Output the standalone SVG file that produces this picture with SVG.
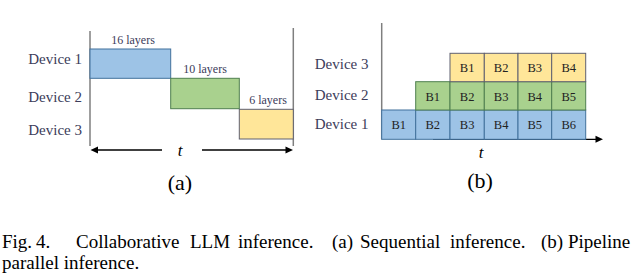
<svg xmlns="http://www.w3.org/2000/svg" width="640" height="277" viewBox="0 0 640 277" font-family="Liberation Serif">
<rect width="640" height="277" fill="#fff"/>
<g id="panel-a-axes">
<line stroke="#7f7f7f" stroke-width="1.5" x1="90" y1="31" x2="90" y2="146"/>
<line stroke="#7f7f7f" stroke-width="1.5" x1="293.3" y1="28" x2="293.3" y2="146"/>
</g>
<g id="a-dev1"><rect fill="#9dc3e6" stroke="#41719c" x="90" y="49" width="80.7" height="29.3"/><text font-family="Liberation Serif" font-size="12" fill="#3c3c5a" text-anchor="middle" x="133" y="43.5">16 layers</text></g>
<g id="a-dev2"><rect fill="#a9d18e" stroke="#4f7f4f" x="170.7" y="78.3" width="68.6" height="30.4"/><text font-family="Liberation Serif" font-size="12" fill="#3c3c5a" text-anchor="middle" x="205" y="73">10 layers</text></g>
<g id="a-dev3"><rect fill="#ffe699" stroke="#5f6070" x="239.3" y="109.3" width="54" height="29.7"/><text font-family="Liberation Serif" font-size="12" fill="#3c3c5a" text-anchor="middle" x="268" y="103.5">6 layers</text></g>
<g id="a-labels">
<text font-family="Liberation Serif" font-size="15" fill="#3c3c5a" text-anchor="end" x="82" y="64.3">Device 1</text>
<text font-family="Liberation Serif" font-size="15" fill="#3c3c5a" text-anchor="end" x="82" y="101.7">Device 2</text>
<text font-family="Liberation Serif" font-size="15" fill="#3c3c5a" text-anchor="end" x="82" y="135">Device 3</text>
</g>
<g id="connectors">
<line stroke="#000" stroke-width="1.3" x1="97" y1="150" x2="162" y2="150"/>
<polygon fill="#000" points="90.5,150 98,146.5 98,153.5"/>
<line stroke="#000" stroke-width="1.3" x1="202" y1="150" x2="286" y2="150"/>
<polygon fill="#000" points="293,150 285.5,146.5 285.5,153.5"/>
<line stroke="#7f7f7f" stroke-width="1.5" x1="381.7" y1="23" x2="381.7" y2="139.3"/>
<line stroke="#000" stroke-width="1.3" x1="433" y1="139.3" x2="596" y2="139.3"/>
<polygon fill="#000" points="603,139.3 595.5,135.8 595.5,142.8"/>
</g>
<text font-family="Liberation Serif" font-size="17" font-style="italic" text-anchor="middle" x="180" y="155.5">t</text>
<text font-family="Liberation Serif" font-size="22" text-anchor="middle" x="180" y="190">(a)</text>
<g id="b-labels">
<text font-family="Liberation Serif" font-size="15" fill="#3c3c5a" text-anchor="end" x="368.5" y="68.5">Device 3</text>
<text font-family="Liberation Serif" font-size="15" fill="#3c3c5a" text-anchor="end" x="368.5" y="100">Device 2</text>
<text font-family="Liberation Serif" font-size="15" fill="#3c3c5a" text-anchor="end" x="368.5" y="128.5">Device 1</text>
</g>
<g id="b-dev1">
<rect fill="#9dc3e6" stroke="#41719c" x="381.7" y="110" width="34" height="29.3"/><text font-family="Liberation Serif" font-size="12.5" fill="#222" text-anchor="middle" x="398.7" y="129">B1</text>
<rect fill="#9dc3e6" stroke="#41719c" x="415.7" y="110" width="34.3" height="29.3"/><text font-family="Liberation Serif" font-size="12.5" fill="#222" text-anchor="middle" x="432.8" y="129">B2</text>
<rect fill="#9dc3e6" stroke="#41719c" x="450" y="110" width="34.3" height="29.3"/><text font-family="Liberation Serif" font-size="12.5" fill="#222" text-anchor="middle" x="467.1" y="129">B3</text>
<rect fill="#9dc3e6" stroke="#41719c" x="484.3" y="110" width="33.7" height="29.3"/><text font-family="Liberation Serif" font-size="12.5" fill="#222" text-anchor="middle" x="501.1" y="129">B4</text>
<rect fill="#9dc3e6" stroke="#41719c" x="518" y="110" width="33.7" height="29.3"/><text font-family="Liberation Serif" font-size="12.5" fill="#222" text-anchor="middle" x="534.8" y="129">B5</text>
<rect fill="#9dc3e6" stroke="#41719c" x="551.7" y="110" width="34" height="29.3"/><text font-family="Liberation Serif" font-size="12.5" fill="#222" text-anchor="middle" x="568.7" y="129">B6</text>
</g>
<g id="b-dev2">
<rect fill="#a9d18e" stroke="#4f7f4f" x="415.7" y="81.7" width="34.3" height="28.3"/><text font-family="Liberation Serif" font-size="12.5" fill="#222" text-anchor="middle" x="432.8" y="100.5">B1</text>
<rect fill="#a9d18e" stroke="#4f7f4f" x="450" y="81.7" width="34.3" height="28.3"/><text font-family="Liberation Serif" font-size="12.5" fill="#222" text-anchor="middle" x="467.1" y="100.5">B2</text>
<rect fill="#a9d18e" stroke="#4f7f4f" x="484.3" y="81.7" width="33.7" height="28.3"/><text font-family="Liberation Serif" font-size="12.5" fill="#222" text-anchor="middle" x="501.1" y="100.5">B3</text>
<rect fill="#a9d18e" stroke="#4f7f4f" x="518" y="81.7" width="33.7" height="28.3"/><text font-family="Liberation Serif" font-size="12.5" fill="#222" text-anchor="middle" x="534.8" y="100.5">B4</text>
<rect fill="#a9d18e" stroke="#4f7f4f" x="551.7" y="81.7" width="34" height="28.3"/><text font-family="Liberation Serif" font-size="12.5" fill="#222" text-anchor="middle" x="568.7" y="100.5">B5</text>
</g>
<g id="b-dev3">
<rect fill="#ffe699" stroke="#5f6070" x="450" y="53.3" width="34.3" height="28.4"/><text font-family="Liberation Serif" font-size="12.5" fill="#222" text-anchor="middle" x="467.1" y="72">B1</text>
<rect fill="#ffe699" stroke="#5f6070" x="484.3" y="53.3" width="33.7" height="28.4"/><text font-family="Liberation Serif" font-size="12.5" fill="#222" text-anchor="middle" x="501.1" y="72">B2</text>
<rect fill="#ffe699" stroke="#5f6070" x="518" y="53.3" width="33.7" height="28.4"/><text font-family="Liberation Serif" font-size="12.5" fill="#222" text-anchor="middle" x="534.8" y="72">B3</text>
<rect fill="#ffe699" stroke="#5f6070" x="551.7" y="53.3" width="34" height="28.4"/><text font-family="Liberation Serif" font-size="12.5" fill="#222" text-anchor="middle" x="568.7" y="72">B4</text>
</g>
<text font-family="Liberation Serif" font-size="17" font-style="italic" text-anchor="middle" x="481" y="157.5">t</text>
<text font-family="Liberation Serif" font-size="22" text-anchor="middle" x="480" y="188">(b)</text>
<g id="caption">
<text font-family="Liberation Serif" font-size="19" y="247.7"><tspan x="2">Fig.</tspan><tspan x="36">4.</tspan><tspan x="76">Collaborative</tspan><tspan x="190">LLM</tspan><tspan x="238">inference.</tspan><tspan x="332">(a)</tspan><tspan x="360">Sequential</tspan><tspan x="450">inference.</tspan><tspan x="541">(b)</tspan><tspan x="568">Pipeline</tspan></text>
<text font-family="Liberation Serif" font-size="19" x="2" y="269.3">parallel inference.</text>
</g>
</svg>
